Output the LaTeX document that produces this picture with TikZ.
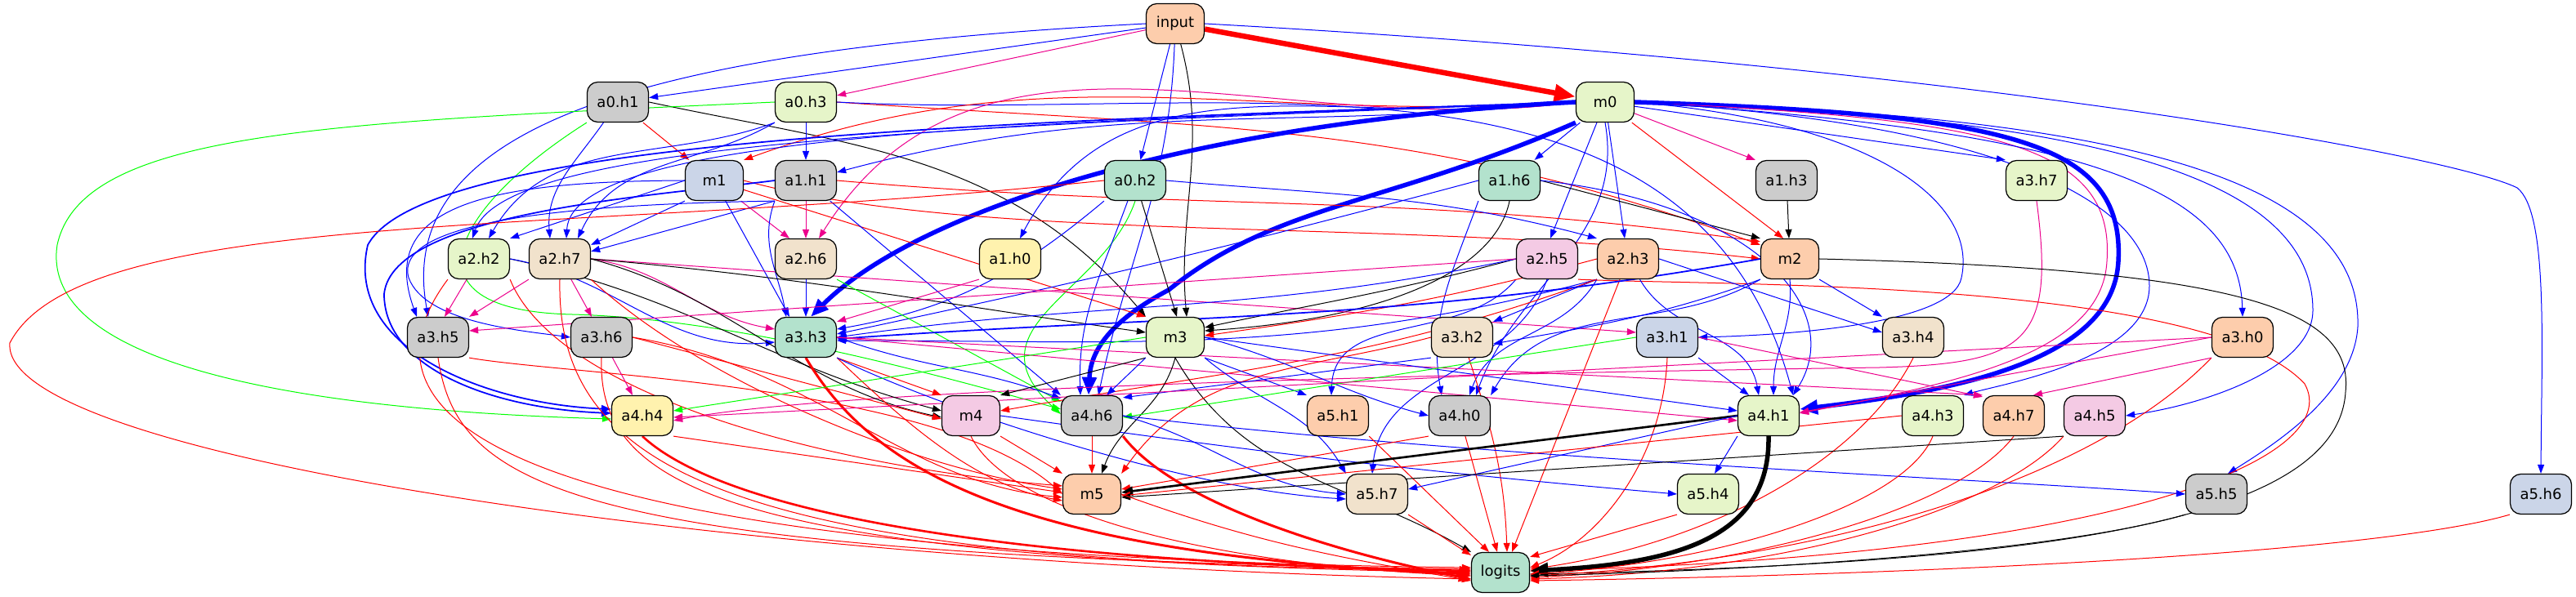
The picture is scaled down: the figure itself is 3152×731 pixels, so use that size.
\documentclass[tikz,border=0pt]{standalone}
\usepackage{fontspec}
\setmainfont{DejaVu Sans}
\usetikzlibrary{arrows.meta}
\pgfdeclarelayer{bg}
\pgfsetlayers{bg,main}
\newdimen\pu
\pu=0.4pt
\definecolor{pgreen}{HTML}{B3E2CD}
\definecolor{porange}{HTML}{FDCDAC}
\definecolor{pblue}{HTML}{CBD5E8}
\definecolor{ppink}{HTML}{F4CAE4}
\definecolor{plime}{HTML}{E6F5C9}
\definecolor{pyellow}{HTML}{FFF2AE}
\definecolor{ptan}{HTML}{F1E2CC}
\definecolor{pgray}{HTML}{CCCCCC}
\tikzset{
  head/.style={draw, line width=0.5pt, rounded corners=5.2pt, minimum width=30pt, minimum height=19.6pt, inner sep=0pt, font=\fontsize{7.2}{8}\selectfont},
  mlp/.style={head, minimum width=28.4pt},
  conn/.style={line width=0.4pt, -{Triangle[length=4.4pt,width=3.2pt]}},
  eb/.style={conn, blue},
  er/.style={conn, red},
  em/.style={conn, magenta},
  eg/.style={conn, green},
  ek/.style={conn, black},
  w15/.style={line width=0.7pt, -{Triangle[length=4.8pt,width=3.6pt]}},
  w25/.style={line width=1.05pt, -{Triangle[length=5.6pt,width=4.4pt]}},
  w3/.style={line width=1.2pt, -{Triangle[length=6pt,width=4.8pt]}},
  w5/.style={line width=2.2pt, -{Triangle[length=8.8pt,width=6.8pt]}},
  w6/.style={line width=2.6pt, -{Triangle[length=10.4pt,width=8pt]}},
}
\begin{document}
\begin{tikzpicture}[x=0.4pt,y=0.4pt]
\useasboundingbox (0,0) rectangle (3152,-731);
\node[mlp, fill=porange] (input) at (1438,-29) {input};
\node[head, fill=pgray] (a0h1) at (756,-125) {a0.h1};
\node[head, fill=plime] (a0h3) at (986,-125) {a0.h3};
\node[mlp, fill=plime] (m0) at (1964,-125) {m0};
\node[mlp, fill=pblue] (m1) at (874,-221) {m1};
\node[head, fill=pgray] (a1h1) at (986,-221) {a1.h1};
\node[head, fill=pgreen] (a0h2) at (1389,-221) {a0.h2};
\node[head, fill=pgreen] (a1h6) at (1847,-221) {a1.h6};
\node[head, fill=pgray] (a1h3) at (2186,-221) {a1.h3};
\node[head, fill=plime] (a3h7) at (2492,-221) {a3.h7};
\node[head, fill=plime] (a2h2) at (586,-317) {a2.h2};
\node[head, fill=ptan] (a2h7) at (685,-317) {a2.h7};
\node[head, fill=ptan] (a2h6) at (986,-317) {a2.h6};
\node[head, fill=pyellow] (a1h0) at (1236,-317) {a1.h0};
\node[head, fill=ppink] (a2h5) at (1893,-317) {a2.h5};
\node[head, fill=porange] (a2h3) at (1992,-317) {a2.h3};
\node[mlp, fill=porange] (m2) at (2190,-317) {m2};
\node[head, fill=pgray] (a3h5) at (536,-413) {a3.h5};
\node[head, fill=pgray] (a3h6) at (736,-413) {a3.h6};
\node[head, fill=pgreen] (a3h3) at (986,-413) {a3.h3};
\node[mlp, fill=plime] (m3) at (1438,-413) {m3};
\node[head, fill=ptan] (a3h2) at (1789,-413) {a3.h2};
\node[head, fill=pblue] (a3h1) at (2040,-413) {a3.h1};
\node[head, fill=ptan] (a3h4) at (2341,-413) {a3.h4};
\node[head, fill=porange] (a3h0) at (2744,-413) {a3.h0};
\node[head, fill=pyellow] (a4h4) at (786,-509) {a4.h4};
\node[mlp, fill=ppink] (m4) at (1188,-509) {m4};
\node[head, fill=pgray] (a4h6) at (1336,-509) {a4.h6};
\node[head, fill=porange] (a5h1) at (1637,-509) {a5.h1};
\node[head, fill=pgray] (a4h0) at (1786,-509) {a4.h0};
\node[head, fill=plime] (a4h1) at (2164,-509) {a4.h1};
\node[head, fill=plime] (a4h3) at (2365,-509) {a4.h3};
\node[head, fill=porange] (a4h7) at (2464,-509) {a4.h7};
\node[head, fill=ppink] (a4h5) at (2563,-509) {a4.h5};
\node[mlp, fill=porange] (m5) at (1336,-605) {m5};
\node[head, fill=ptan] (a5h7) at (1685,-605) {a5.h7};
\node[head, fill=plime] (a5h4) at (2090,-605) {a5.h4};
\node[head, fill=pgray] (a5h5) at (2712,-605) {a5.h5};
\node[head, fill=pblue] (a5h6) at (3109,-605) {a5.h6};
\node[mlp, fill=pgreen] (logits) at (1836,-701) {logits};
\begin{pgfonlayer}{bg}
\draw[er, w6] (input) -- (m0);
\draw[em] (input) -- (a0h3);
\draw[eb] (input) -- (a0h1);
\draw[eb] (input) -- (a0h2);
\draw[ek] (input) to[out=-75,in=95] ([xshift=14\pu]m3.north);
\draw[eb] (input) to[out=-92,in=78] ([xshift=8\pu]a4h6.north);
\draw[eb] (input.west) .. controls (800,-60) and (480,-150) .. ([xshift=-12\pu]a3h5.north);
\draw[eb] (input.east) .. controls (2400,-80) and (3000,-190) .. (3080,-230) .. controls (3118,-260) and (3110,-420) .. (a5h6.north);
\draw[er] (a0h1) -- (m1);
\draw[eb] (a0h1) to[out=-125,in=95] ([xshift=-12\pu]a2h7.north);
\draw[ek] (a0h1.east) to[out=-12,in=130] (m3.north west);
\draw[eg] (a0h1.south west) .. controls (560,-250) and (480,-380) .. (700,-385) .. controls (900,-390) and (1150,-460) .. ([yshift=8\pu]a4h6.west);
\draw[eb] (a0h3) -- (a1h1);
\draw[eg] (a0h3.west) .. controls (400,-150) and (100,-160) .. (70,-300) .. controls (50,-430) and (300,-500) .. ([yshift=-4\pu]a4h4.west);
\draw[er] (a0h3.east) to[out=-4,in=160] ([yshift=-8\pu]m2.north west);
\draw[eb] (a0h3.south west) to[out=-160,in=60] ([xshift=12\pu]a2h2.north);
\draw[eb] (a0h3.south west) to[out=-150,in=65] ([xshift=22\pu]a2h7.north);
\draw[eb] (a0h3.east) to[out=-3,in=105] ([xshift=30\pu]a4h1.north);
\draw[eb] (m0) -- (a1h6);
\draw[eb] (m0) -- ([xshift=4\pu]a2h5.north);
\draw[eb] (m0) -- ([xshift=-4\pu]a2h3.north);
\draw[er] (m0) -- ([xshift=-8\pu]m2.north);
\draw[em] (m0) -- (a1h3.north west);
\draw[eb] (m0) -- (a3h7.north west);
\draw[eb] (m0.west) to[out=188,in=62] ([xshift=12\pu]a1h0.north);
\draw[eb] (m0.west) to[out=186,in=15] ([yshift=10\pu]a1h1.east);
\draw[er] (m0.west) to[out=184,in=20] (m1.north east);
\draw[em] (m0.west) to[out=188,in=58] ([xshift=16\pu]a2h6.north);
\draw[eb, w5] (m0.west) .. controls (1450,-150) and (1120,-260) .. ([xshift=6\pu]a3h3.north);
\draw[eb, w5] (m0.south west) .. controls (1700,-250) and (1560,-250) .. (1430,-355) .. controls (1345,-400) and (1334,-440) .. ([xshift=-4\pu]a4h6.north);
\draw[eb, w5] (m0.east) .. controls (2450,-140) and (2600,-170) .. (2592,-320) .. controls (2586,-440) and (2400,-478) .. ([yshift=8\pu]a4h1.east);
\draw[em] (m0.east) .. controls (2440,-146) and (2588,-176) .. (2578,-320) .. controls (2572,-432) and (2400,-468) .. ([yshift=3\pu]a4h1.east);
\draw[eb] (m0.east) .. controls (2550,-160) and (2740,-230) .. (a3h0.north);
\draw[eb] (m0.east) .. controls (2500,-140) and (2830,-200) .. (2830,-380) .. controls (2830,-450) and (2700,-495) .. (a4h5.east);
\draw[eb] (m0.east) .. controls (2600,-140) and (2890,-220) .. (2885,-400) .. controls (2880,-480) and (2790,-540) .. ([xshift=14\pu]a5h5.north);
\draw[eb] (m0.east) .. controls (2450,-150) and (2630,-250) .. (2630,-350) .. controls (2630,-440) and (2450,-470) .. (a4h3.north east);
\draw[eb] (m0.east) .. controls (2300,-150) and (2420,-250) .. (2400,-340) .. controls (2390,-395) and (2200,-410) .. (a3h1.east);
\draw[eb] (m0.south) to[out=-80,in=70] ([xshift=20\pu]a4h0.north);
\draw[eb, w15] (m0.west) .. controls (1200,-150) and (520,-170) .. (450,-300) .. controls (420,-430) and (600,-495) .. ([yshift=8\pu]a4h4.west);
\draw[eb] (m0.west) .. controls (1300,-150) and (700,-160) .. ([xshift=8\pu]a2h7.north);
\draw[eb] (m0.west) .. controls (1200,-155) and (620,-170) .. ([xshift=-8\pu]a2h2.north);
\draw[er] (m1) -- (m3.north west);
\draw[eb] (m1.west) -- (a2h2.north east);
\draw[eb] (m1.south west) -- ([yshift=-8\pu]a2h7.north east);
\draw[em] (m1) -- ([xshift=-20\pu]a2h6.north);
\draw[eb] (m1) -- ([xshift=-20\pu]a3h3.north);
\draw[er] (m1.east) .. controls (1200,-300) and (1700,-265) .. (m2.west);
\draw[eb] (m1.west) .. controls (600,-222) and (460,-250) .. ([xshift=-26\pu]a3h5.north);
\draw[em] (a1h1) -- (a2h6);
\draw[eb] (a1h1.south west) -- ([yshift=-16\pu]a2h7.north east);
\draw[eb] (a1h1.south west) to[out=-110,in=100] ([xshift=-24\pu]a3h3.north);
\draw[eb] (a1h1) -- (a4h6.north west);
\draw[er] (a1h1.east) to[out=-5,in=172] ([yshift=-4\pu]m2.north west);
\draw[eb, w15] (a1h1.west) .. controls (800,-240) and (480,-260) .. (470,-360) .. controls (470,-450) and (600,-500) .. ([yshift=3\pu]a4h4.west);
\draw[eb] (a1h1.south west) .. controls (700,-250) and (480,-270) .. (500,-340) .. controls (520,-395) and (640,-405) .. (a3h6.west);
\draw[ek] (a0h2) -- ([xshift=2\pu]m3.north);
\draw[eg] (a0h2.south) .. controls (1350,-360) and (1180,-400) .. ([yshift=2\pu]a4h6.west);
\draw[eb] (a0h2) to[out=-110,in=92] ([xshift=-14\pu]a4h6.north);
\draw[er] (a0h2.west) .. controls (700,-290) and (100,-250) .. (12,-420) .. controls (0,-560) and (900,-690) .. ([yshift=-8\pu]logits.west);
\draw[eb] (a0h2.east) to[out=-5,in=165] (a2h3.north west);
\draw[eb] (a0h2.south west) to[out=-140,in=10] ([yshift=10\pu]a3h3.east);
\draw[ek] (a1h6.east) -- (m2.north west);
\draw[eb] (a1h6.west) to[out=195,in=12] ([yshift=4\pu]a3h3.east);
\draw[eb] (a1h6.east) .. controls (2150,-250) and (2260,-380) .. ([xshift=30\pu]a4h1.north);
\draw[ek] (a1h6.south) .. controls (1830,-330) and (1700,-390) .. ([yshift=8\pu]m3.east);
\draw[eb] (a1h6.south west) to[out=-110,in=100] ([xshift=-22\pu]a4h0.north);
\draw[ek] (a1h3) -- (m2);
\draw[em] (a3h7.south) .. controls (2515,-420) and (2480,-445) .. (2300,-450) .. controls (1600,-460) and (1000,-480) .. ([yshift=-6\pu]a4h4.east);
\draw[em] (a2h2) -- ([xshift=8\pu]a3h5.north);
\draw[er] (a2h2.south west) .. controls (430,-500) and (560,-680) .. ([yshift=6\pu]logits.west);
\draw[er] (a2h2.south east) .. controls (680,-480) and (1000,-570) .. ([yshift=10\pu]m5.west);
\draw[ek] (a2h2.east) to[out=-12,in=165] ([yshift=6\pu]m4.west);
\draw[eb] (a2h2.east) to[out=-10,in=185] ([yshift=-6\pu]a3h3.west);
\draw[em] (a2h7.south west) -- (a3h5.north east);
\draw[em] (a2h7) -- ([xshift=-12\pu]a3h6.north);
\draw[em] (a2h7.east) -- ([yshift=6\pu]a3h1.west);
\draw[em] (a2h7.east) to[out=-8,in=170] ([yshift=10\pu]a3h3.west);
\draw[er] (a2h7.south) .. controls (680,-580) and (900,-690) .. ([yshift=2\pu]logits.west);
\draw[er] (a2h7.south east) .. controls (850,-460) and (1100,-570) .. ([yshift=6\pu]m5.west);
\draw[ek] (a2h7.east) to[out=-5,in=172] ([yshift=6\pu]m3.west);
\draw[ek] (a2h7.east) to[out=-15,in=168] ([yshift=-2\pu]m4.west);
\draw[eb] (a2h6) -- (a3h3);
\draw[eg] (a2h6.south east) -- ([yshift=-8\pu]a4h6.north west);
\draw[em] (a1h0.south west) -- ([yshift=-6\pu]a3h3.north east);
\draw[ek] (a2h5.west) to[out=195,in=12] ([yshift=12\pu]m3.east);
\draw[eb] (a2h5.west) to[out=192,in=8] (a3h3.east);
\draw[em] (a2h5.west) -- ([yshift=8\pu]a3h5.east);
\draw[er] (a2h5.south east) .. controls (2100,-350) and (2700,-340) .. (2820,-470) .. controls (2870,-560) and (2600,-680) .. ([yshift=2\pu]logits.east);
\draw[eb] (a2h5.south) to[out=-110,in=85] ([xshift=-6\pu]a5h7.north);
\draw[eb] (a2h5.south west) to[out=-130,in=88] ([xshift=-8\pu]a5h1.north);
\draw[eb] (a2h3.south west) -- ([yshift=-6\pu]a3h2.north east);
\draw[eb] (a2h3.east) -- ([yshift=6\pu]a3h4.west);
\draw[eb] (a2h3) to[out=-60,in=100] ([xshift=-12\pu]a4h1.north);
\draw[eb] (a2h3.south west) to[out=-120,in=70] ([xshift=12\pu]a4h0.north);
\draw[eb] (a2h3.south west) to[out=195,in=0] ([yshift=-4\pu]a3h3.east);
\draw[er] (a2h3) -- ([xshift=14\pu]logits.north);
\draw[er] (a2h3.west) to[out=195,in=8] ([yshift=2\pu]m3.east);
\draw[er] (a2h3.south west) to[out=-160,in=10] ([yshift=6\pu]m4.east);
\draw[ek] (m2.east) .. controls (2750,-330) and (2880,-380) .. (2870,-480) .. controls (2860,-640) and (2500,-690) .. ([yshift=-2\pu]logits.east);
\draw[eb, w15] (m2.west) to[out=190,in=4] ([yshift=-2\pu]a3h3.east);
\draw[eb] (m2.south east) -- (a3h4.north west);
\draw[eb] (m2.south) to[out=-85,in=90] ([xshift=6\pu]a4h1.north);
\draw[eb] (m2.south west) to[out=-160,in=10] ([yshift=-8\pu]a3h2.east);
\draw[eb] (m2.south west) to[out=-150,in=60] (a4h0.north east);
\draw[er] (a3h5.south) .. controls (560,-600) and (700,-680) .. ([yshift=4\pu]logits.west);
\draw[er] (a3h5.south east) .. controls (700,-460) and (1150,-470) .. (m5.west);
\draw[em] (a3h6) -- ([xshift=-12\pu]a4h4.north);
\draw[er] (a3h6.south) .. controls (730,-600) and (900,-685) .. (logits.west);
\draw[er] (a3h6.east) .. controls (1000,-450) and (1100,-590) .. ([yshift=-4\pu]m5.west);
\draw[er] (a3h6.east) -- ([yshift=-4\pu]m4.west);
\draw[er, w3] (a3h3.south) .. controls (1070,-580) and (1250,-680) .. ([yshift=-2\pu]logits.west);
\draw[er] (a3h3.south east) .. controls (1120,-530) and (1200,-595) .. ([yshift=-8\pu]m5.west);
\draw[er] (a3h3.south east) -- (m4.north west);
\draw[eb] (a3h3.east) to[out=-20,in=160] ([yshift=-4\pu]a4h6.north west);
\draw[em] (a3h3.east) -- ([yshift=-6\pu]a4h1.west);
\draw[em] (a3h3.east) -- (a4h7.north west);
\draw[eb] (a3h3.south east) .. controls (1150,-500) and (1450,-600) .. ([yshift=-6\pu]a5h7.west);
\draw[ek] (m3.south) to[out=-105,in=70] ([xshift=12\pu]m5.north);
\draw[ek] (m3.south west) -- (m4.north east);
\draw[ek] (m3.south) to[out=-60,in=150] (logits.north west);
\draw[eg] (m3.west) -- ([yshift=6\pu]a4h4.east);
\draw[eb] (m3.south west) -- ([xshift=18\pu]a4h6.north);
\draw[eb] (m3.south east) -- (a5h1.north west);
\draw[eb] (m3.south east) to[out=-40,in=120] (a5h7.north west);
\draw[eb] (m3.east) to[out=-15,in=165] (a4h0.west);
\draw[eb] (m3.east) -- ([yshift=6\pu]a4h1.west);
\draw[er] (a3h2) to[out=-72,in=92] ([xshift=8\pu]logits.north);
\draw[er] (a3h2.west) to[out=195,in=55] (m5.north east);
\draw[eb] (a3h2.south west) -- ([yshift=-3\pu]a4h6.north east);
\draw[er] (a3h1.south) .. controls (2035,-560) and (1960,-660) .. ([yshift=6\pu]logits.east);
\draw[eb] (a3h1.south east) -- ([xshift=-24\pu]a4h1.north);
\draw[eg] (a3h1.west) -- ([yshift=-2\pu]a4h6.east);
\draw[em] (a3h1.east) -- ([yshift=-2\pu]a4h7.north west);
\draw[er] (a3h4.south) .. controls (2280,-560) and (2100,-665) .. ([yshift=4\pu]logits.east);
\draw[er] (a3h0.south west) .. controls (2550,-600) and (2200,-690) .. ([yshift=-4\pu]logits.east);
\draw[em] (a3h0.west) -- ([yshift=-2\pu]a4h4.east);
\draw[em] (a3h0.west) -- ([yshift=4\pu]a4h1.east);
\draw[em] (a3h0.south west) -- ([xshift=24\pu]a4h7.north);
\draw[er, w25] (a4h4.south) .. controls (900,-640) and (1300,-690) .. ([yshift=2\pu]logits.west);
\draw[er] (a4h4.south east) -- ([yshift=2\pu]m5.west);
\draw[er] (m4.south east) -- (m5.north west);
\draw[er] (m4.south) .. controls (1230,-620) and (1450,-690) .. ([yshift=-4\pu]logits.west);
\draw[eb] (m4.east) to[out=-8,in=175] (a5h4.west);
\draw[er] (a4h6) -- (m5);
\draw[er, w3] (a4h6.south east) .. controls (1440,-620) and (1650,-680) .. ([yshift=-8\pu]logits.west);
\draw[eb] (a4h6.east) .. controls (1800,-560) and (2400,-585) .. (a5h5.west);
\draw[eb] (a4h6.east) to[out=-15,in=175] (a5h7.west);
\draw[er] (a5h1.south east) -- ([xshift=-14\pu]logits.north);
\draw[er] (a4h0) -- ([xshift=-4\pu]logits.north);
\draw[er] (a4h0.south west) -- ([yshift=6\pu]m5.east);
\draw[ek, w5] (a4h1.south) .. controls (2166,-660) and (2050,-690) .. ([yshift=2\pu]logits.east);
\draw[ek, w25] (a4h1.west) -- ([yshift=2\pu]m5.east);
\draw[eb] (a4h1.south west) -- ([xshift=8\pu]a5h4.north);
\draw[eb] (a4h1.west) -- ([yshift=6\pu]a5h7.east);
\draw[er] (a4h3.south) .. controls (2330,-620) and (2100,-690) .. ([yshift=-2\pu]logits.east);
\draw[er] (a4h3.west) -- ([yshift=-2\pu]m5.east);
\draw[er] (a4h7.south) .. controls (2400,-620) and (2150,-695) .. ([yshift=-6\pu]logits.east);
\draw[er] (a4h5.south west) .. controls (2450,-620) and (2200,-700) .. ([yshift=-8\pu]logits.east);
\draw[ek] (a4h5.south west) -- ([yshift=-4\pu]m5.east);
\draw[er] (m5.east) to[out=-20,in=170] ([yshift=-10\pu]logits.west);
\draw[er] (a5h7.south east) -- ([yshift=-4\pu]logits.north west);
\draw[er] (a5h4.south west) -- ([yshift=-6\pu]logits.north east);
\draw[ek] (a5h5.south west) .. controls (2500,-680) and (2100,-700) .. ([yshift=-4\pu]logits.east);
\draw[er] (a5h6.south west) .. controls (2900,-680) and (2300,-705) .. ([yshift=-10\pu]logits.east);
\end{pgfonlayer}
\end{tikzpicture}
\end{document}
